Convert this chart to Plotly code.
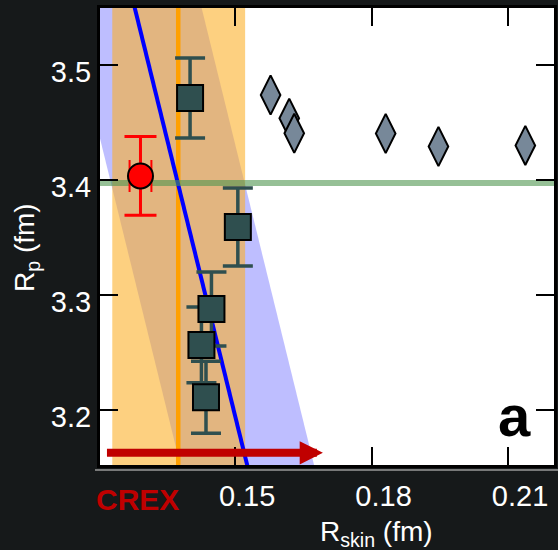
import plotly.graph_objects as go

# ---------------- data ----------------
crex_rskin = [0.1292]
crex_rp = [3.4035]
crex_rp_err = [0.0343]
crex_rskin_err = [0.0024]

sq_rskin = [0.1401, 0.1506, 0.1448, 0.1426, 0.1436]
sq_rp = [3.4713, 3.3591, 3.2878, 3.2565, 3.2109]
sq_err = [0.0348, 0.0339, 0.0322, 0.0330, 0.0313]

dia_rskin = [0.1578, 0.1619, 0.1630, 0.1831, 0.1947, 0.2138]
dia_rp = [3.4739, 3.4537, 3.4406, 3.4404, 3.4291, 3.4300]

# CREX band in R_skin
crex_band_center = 0.1375
crex_band_lo = 0.1230
crex_band_hi = 0.1522

# linear fit line and its band
fit_rp = [3.56, 3.14]
fit_rskin = [0.1273, 0.1534]
fit_lo = [0.1126, 0.1387]
fit_hi = [0.1420, 0.1681]

# horizontal reference R_p
ref_rp = 3.3974

x_ticks = [0.15, 0.18, 0.21]
x_ticktext = ["0.15", "0.18", "0.21"]
y_ticks = [3.2, 3.3, 3.4, 3.5]
y_ticktext = ["3.2", "3.3", "3.4", "3.5"]

x_range = [0.1203, 0.2201]
y_range = [3.152, 3.5496]

# arrow (CREX direction)
arrow_tail = 0.1215
arrow_tip = 0.1693
arrow_rp = 3.1626

FONT = "Liberation Sans, Arial, sans-serif"

fig = go.Figure()

# lavender band around the fit
fig.add_trace(go.Scatter(
    x=fit_lo + fit_hi[::-1], y=fit_rp + fit_rp[::-1],
    fill="toself", fillcolor="rgba(0,0,255,0.255)",
    line=dict(width=0), mode="lines", hoverinfo="skip", showlegend=False))

# orange CREX band
fig.add_trace(go.Scatter(
    x=[crex_band_lo, crex_band_hi, crex_band_hi, crex_band_lo],
    y=[3.0, 3.0, 3.7, 3.7],
    fill="toself", fillcolor="rgba(252,175,38,0.585)",
    line=dict(width=0), mode="lines", hoverinfo="skip", showlegend=False))

# orange central line
fig.add_trace(go.Scatter(
    x=[crex_band_center, crex_band_center], y=[3.0, 3.7],
    mode="lines", line=dict(color="#FFA000", width=4.5),
    hoverinfo="skip", showlegend=False))

# blue fit line
fig.add_trace(go.Scatter(
    x=fit_rskin, y=fit_rp, mode="lines",
    line=dict(color="#0000FF", width=4),
    hoverinfo="skip", showlegend=False))

# green horizontal line
fig.add_trace(go.Scatter(
    x=[0.10, 0.24], y=[ref_rp, ref_rp], mode="lines",
    line=dict(color="rgba(80,150,80,0.6)", width=6),
    hoverinfo="skip", showlegend=False))

# diamonds
fig.add_trace(go.Scatter(
    x=dia_rskin, y=dia_rp, mode="markers",
    marker=dict(symbol="diamond-tall", size=28, color="#778899",
                line=dict(color="black", width=2)),
    showlegend=False))

# squares with error bars
fig.add_trace(go.Scatter(
    x=sq_rskin, y=sq_rp, mode="markers",
    marker=dict(symbol="square", size=26, color="#2F4F4F",
                line=dict(color="black", width=2)),
    error_y=dict(type="data", array=sq_err, color="#2F4F4F",
                 thickness=3.5, width=15),
    showlegend=False))

# CREX red point
fig.add_trace(go.Scatter(
    x=crex_rskin, y=crex_rp, mode="markers",
    marker=dict(symbol="circle", size=25, color="#FF0000",
                line=dict(color="black", width=2)),
    error_y=dict(type="data", array=crex_rp_err, color="#FF0000",
                 thickness=3, width=16),
    error_x=dict(type="data", array=crex_rskin_err, color="#FF0000",
                 thickness=2, width=16),
    showlegend=False))

axis_common = dict(
    showgrid=False, zeroline=False,
    ticks="inside", ticklen=18, tickwidth=2, tickcolor="black",
    showline=True, linecolor="black", linewidth=3, mirror="ticks",
)

fig.update_xaxes(range=x_range, tickvals=x_ticks, ticktext=x_ticktext,
                 ticklabelshift=12, ticklabelstandoff=3,
                 tickfont=dict(family=FONT, size=29, color="white"),
                 **axis_common)
fig.update_yaxes(range=y_range, tickvals=y_ticks, ticktext=y_ticktext,
                 ticklabelshift=7, ticklabelstandoff=0,
                 tickfont=dict(family=FONT, size=29, color="white"),
                 **axis_common)

annotations = [
    # arrow
    dict(x=arrow_tip, y=arrow_rp, ax=arrow_tail, ay=arrow_rp,
         xref="x", yref="y", axref="x", ayref="y", text="",
         showarrow=True, arrowhead=2, arrowwidth=8, arrowsize=0.58,
         arrowcolor="#C00000", standoff=0),
    # CREX label
    dict(x=0.0815, y=-0.0744, xref="paper", yref="paper", text="<b>CREX</b>",
         showarrow=False, xanchor="center", yanchor="middle",
         font=dict(family=FONT, size=30, color="#C00000")),
    # panel label
    dict(x=0.912, y=0.108, xref="paper", yref="paper", text="<b>a</b>",
         showarrow=False, xanchor="center", yanchor="middle",
         font=dict(family=FONT, size=58, color="black")),
    # axis titles
    dict(x=-0.163, y=0.477, xref="paper", yref="paper",
         text="R<sub>p</sub> (fm)", textangle=-90, showarrow=False,
         xanchor="center", yanchor="middle",
         font=dict(family=FONT, size=28, color="white")),
    dict(x=0.608, y=-0.150, xref="paper", yref="paper",
         text="R<sub>skin</sub> (fm)", showarrow=False,
         xanchor="center", yanchor="middle",
         font=dict(family=FONT, size=28, color="white")),
]

shapes = [
    dict(type="line", xref="paper", yref="paper",
         x0=-0.011, x1=1.02, y0=-0.0109, y1=-0.0109,
         line=dict(color="#9a9a9a", width=1.5)),
]

fig.update_layout(
    width=558, height=550,
    margin=dict(l=100, r=4, t=8, b=85, autoexpand=False),
    paper_bgcolor="#16191a", plot_bgcolor="white",
    annotations=annotations, shapes=shapes,
    showlegend=False,
)

fig.write_html("out.html")
